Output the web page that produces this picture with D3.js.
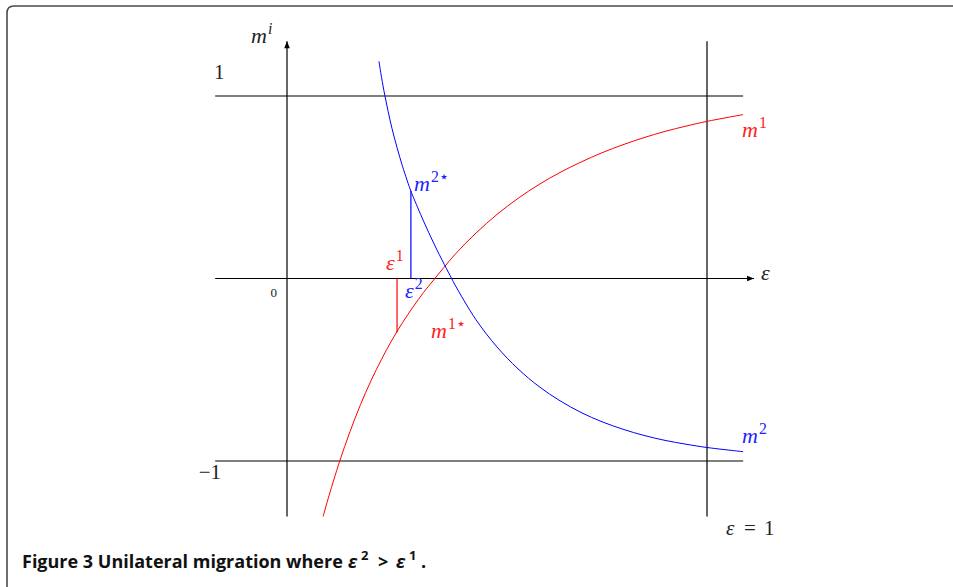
<!DOCTYPE html>
<html>
<head>
<meta charset="utf-8">
<script src="https://cdn.jsdelivr.net/npm/d3@7"></script>
<style>
  body { margin: 0; background: #fff; }
  svg { display: block; }
  .math { font-family: "Liberation Serif", "DejaVu Serif", serif; }
  .caption { font-family: "Open Sans", "Noto Sans", sans-serif; font-weight: bold; }
</style>
</head>
<body>
<svg></svg>
<script>
// curve m1 (red)
const redEps = [0.086, 0.100, 0.125, 0.150, 0.175, 0.200, 0.225, 0.250, 0.275, 0.300, 0.325, 0.350, 0.400, 0.450, 0.500, 0.550, 0.600, 0.650, 0.700, 0.750, 0.800, 0.850, 0.900, 0.950, 1.000, 1.086]
const redM   = [-1.304, -1.190, -1.004, -0.839, -0.691, -0.560, -0.443, -0.337, -0.242, -0.156, -0.077, -0.006, 0.132, 0.249, 0.351, 0.439, 0.515, 0.581, 0.638, 0.689, 0.733, 0.772, 0.806, 0.835, 0.861, 0.898]

// curve m2 (blue)
const blueEps = [0.219, 0.225, 0.233, 0.250, 0.275, 0.295, 0.300, 0.325, 0.350, 0.375, 0.392, 0.400, 0.450, 0.500, 0.550, 0.600, 0.650, 0.700, 0.750, 0.800, 0.850, 0.900, 0.950, 1.000, 1.086]
const blueM   = [1.190, 1.103, 1.003, 0.822, 0.615, 0.479, 0.450, 0.315, 0.190, 0.075, 0.000, -0.035, -0.226, -0.375, -0.495, -0.592, -0.670, -0.734, -0.785, -0.826, -0.860, -0.887, -0.908, -0.926, -0.949]

// equilibrium markers: eps1 -> m1*, eps2 -> m2*
const eps1 = 0.262, m1Star = -0.296
const eps2 = 0.295, m2Star = 0.479

// axes extents (data units)
const xMin = -0.171, xMax = 1.086, xArrow = 1.112
const yMin = -1.304, yMax = 1.30
const hLevels = [1, -1]

const svg = d3.select("svg")
  .attr("width", 953)
  .attr("height", 587)

const x = d3.scaleLinear().domain([0, 1]).range([287, 707])
const y = d3.scaleLinear().domain([-1, 1]).range([461, 96])

// frame
svg.append("path")
  .attr("d", "M7,600 L7,13 Q7,6 14,6 L960,6")
  .attr("fill", "none")
  .attr("stroke", "#4a4a4a")
  .attr("stroke-width", 1.6)

svg.append("defs").append("marker")
  .attr("id", "arrow")
  .attr("viewBox", "0 0 10 10")
  .attr("refX", 10)
  .attr("refY", 5)
  .attr("markerWidth", 9)
  .attr("markerHeight", 7)
  .attr("markerUnits", "userSpaceOnUse")
  .attr("orient", "auto")
  .append("path")
  .attr("d", "M0,1 L10,5 L0,9 Z")
  .attr("fill", "#000")

const axes = svg.append("g")
  .attr("stroke", "#000")
  .attr("stroke-width", 1.2)

// x axis
axes.append("line")
  .attr("x1", x(xMin)).attr("x2", x(xArrow))
  .attr("y1", y(0)).attr("y2", y(0))
  .attr("marker-end", "url(#arrow)")

// y axis
axes.append("line")
  .attr("x1", x(0)).attr("x2", x(0))
  .attr("y1", y(yMin)).attr("y2", y(yMax))
  .attr("marker-end", "url(#arrow)")

// m = 1 and m = -1
axes.selectAll("line.level")
  .data(hLevels)
  .enter()
  .append("line")
  .attr("class", "level")
  .attr("x1", x(xMin)).attr("x2", x(xMax))
  .attr("y1", d => y(d)).attr("y2", d => y(d))

// eps = 1
axes.append("line")
  .attr("x1", x(1)).attr("x2", x(1))
  .attr("y1", y(yMin)).attr("y2", y(yMax))

const line = d3.line()
  .x(d => x(d[0]))
  .y(d => y(d[1]))
  .curve(d3.curveCatmullRom.alpha(0.5))

svg.append("path")
  .datum(redEps.map((e, i) => [e, redM[i]]))
  .attr("d", line)
  .attr("fill", "none")
  .attr("stroke", "#f00")
  .attr("stroke-width", 1)

svg.append("path")
  .datum(blueEps.map((e, i) => [e, blueM[i]]))
  .attr("d", line)
  .attr("fill", "none")
  .attr("stroke", "#00f")
  .attr("stroke-width", 1)

// markers
svg.append("line")
  .attr("x1", x(eps1)).attr("x2", x(eps1))
  .attr("y1", y(0)).attr("y2", y(m1Star))
  .attr("stroke", "#f00").attr("stroke-width", 1.2)

svg.append("line")
  .attr("x1", x(eps2)).attr("x2", x(eps2))
  .attr("y1", y(0)).attr("y2", y(m2Star))
  .attr("stroke", "#00f").attr("stroke-width", 1.2)

// labels
function mathLabel(px, py, base, sup, color, size) {
  const t = svg.append("text")
    .attr("class", "math")
    .attr("x", px)
    .attr("y", py)
    .attr("fill", color)
    .style("font-size", size + "px")
  t.append("tspan").style("font-style", "italic").text(base)
  if (sup) {
    t.append("tspan")
      .attr("dx", 1)
      .attr("dy", -size * 0.42)
      .style("font-size", (size * 0.72) + "px")
      .text(sup)
  }
  return t
}

mathLabel(251, 43, "m", "i", "#222", 22).select("tspan:last-child").style("font-style", "italic")
mathLabel(742, 137, "m", "1", "#f22", 22)
mathLabel(742, 443, "m", "2", "#22f", 22)
mathLabel(414, 191, "m", "2\u22C6", "#22f", 22)
mathLabel(431, 338, "m", "1\u22C6", "#f22", 22)
mathLabel(386, 270, "\u03B5", "1", "#f22", 22)
mathLabel(405, 298, "\u03B5", "2", "#22f", 22)
mathLabel(761, 280, "\u03B5", null, "#222", 22)

svg.append("text").attr("class", "math")
  .attr("x", 214).attr("y", 79)
  .attr("fill", "#222").style("font-size", "21px")
  .text("1")

svg.append("text").attr("class", "math")
  .attr("x", 221).attr("y", 479)
  .attr("text-anchor", "end")
  .attr("fill", "#222").style("font-size", "21px")
  .text("\u22121")

svg.append("text").attr("class", "math")
  .attr("x", 277).attr("y", 297)
  .attr("text-anchor", "end")
  .attr("fill", "#222").style("font-size", "13px")
  .text("0")

const eq = svg.append("text").attr("class", "math")
  .attr("y", 535)
  .attr("fill", "#222").style("font-size", "21px")
eq.append("tspan").attr("x", 726).style("font-style", "italic").text("\u03B5")
eq.append("tspan").attr("x", 744).text("=")
eq.append("tspan").attr("x", 764).text("1")

// caption
const cap = svg.append("text")
  .attr("class", "caption")
  .attr("x", 22)
  .attr("y", 568)
  .attr("fill", "#111")
  .style("font-size", "18px")
cap.append("tspan").text("Figure 3 Unilateral migration where")
cap.append("tspan").attr("x", 348).style("font-style", "italic").text("\u03B5")
cap.append("tspan").attr("x", 361).attr("dy", -8).style("font-size", "13px").text("2")
cap.append("tspan").attr("x", 378).attr("dy", 8).text(">")
cap.append("tspan").attr("x", 396).style("font-style", "italic").text("\u03B5")
cap.append("tspan").attr("x", 409).attr("dy", -8).style("font-size", "13px").text("1")
cap.append("tspan").attr("x", 421).attr("dy", 8).text(".")
</script>
</body>
</html>
